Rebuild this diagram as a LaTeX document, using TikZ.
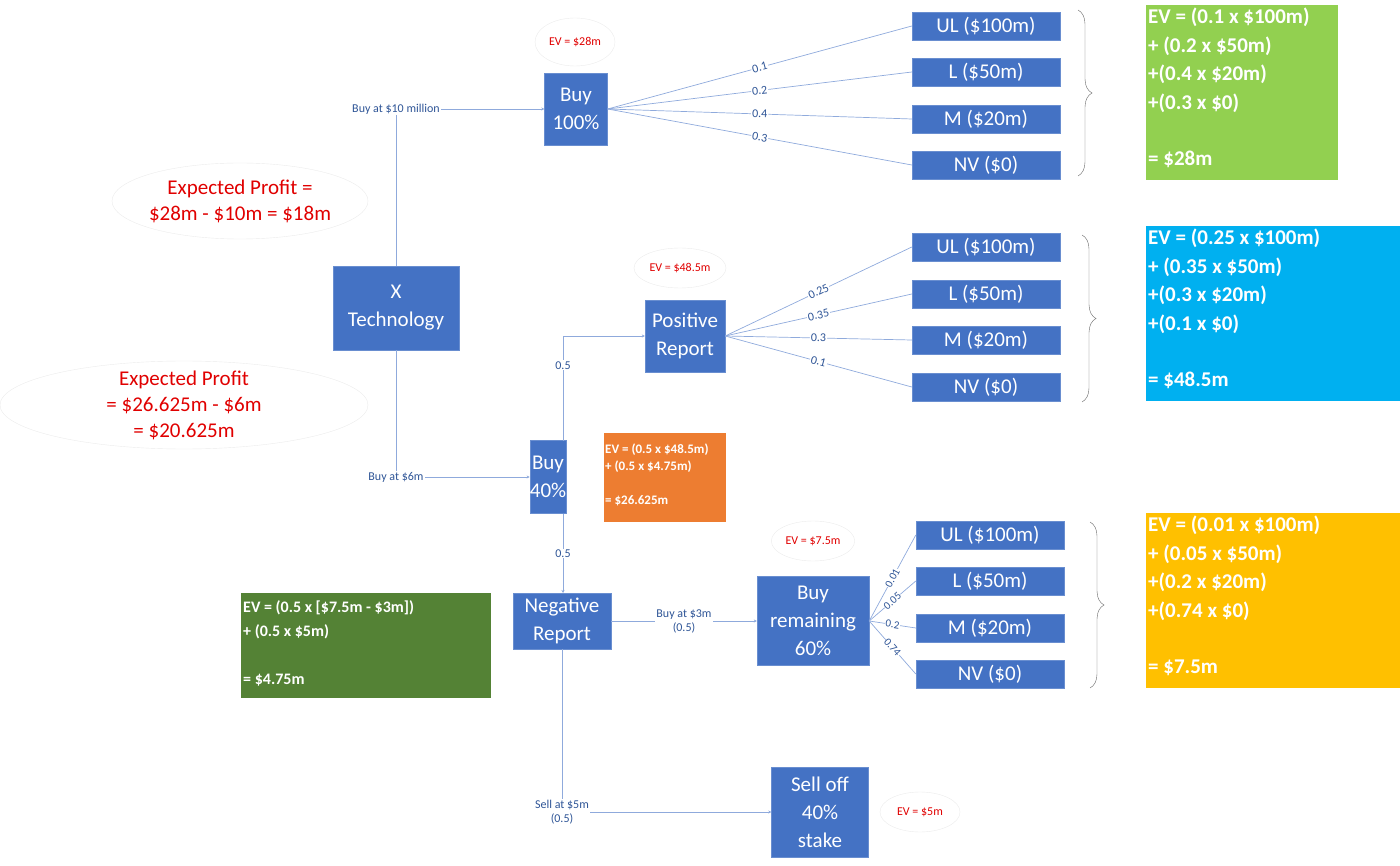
\documentclass[tikz,border=0pt]{standalone}
\usepackage{fontspec}
\setmainfont{Carlito}
\usetikzlibrary{decorations.pathreplacing,shapes.geometric,arrows.meta}
\definecolor{bx}{HTML}{4472C4}
\definecolor{ln}{HTML}{8FAADC}
\definecolor{lb}{HTML}{2F5597}
\definecolor{rd}{HTML}{E00000}
\definecolor{g1}{HTML}{92D050}
\definecolor{c1}{HTML}{00B0F0}
\definecolor{y1}{HTML}{FFC000}
\definecolor{o1}{HTML}{ED7D31}
\definecolor{g2}{HTML}{548235}
\begin{document}
\begin{tikzpicture}[x=1pt,y=-1pt,
 box/.style={fill=bx,draw=bx!80!white,text=white,align=center,inner sep=0pt,font=\fontsize{21}{28}\selectfont},
 outc/.style={box,minimum width=148pt,minimum height=28pt},
 lnn/.style={draw=ln,line width=0.7pt},
 arr/.style={lnn,-{Stealth[length=3pt,width=3pt]}},
 lab/.style={text=lb,font=\fontsize{12}{14}\selectfont,fill=white,inner sep=1pt,align=center},
 slab/.style={text=lb,font=\fontsize{12}{14}\selectfont,inner sep=1pt,sloped,fill=white},
 evel/.style={ellipse,draw=black!8,text=rd,font=\fontsize{12}{14}\selectfont,inner sep=2pt},
 evbox/.style={text=white,font=\bfseries\fontsize{21}{28.5}\selectfont,align=left,anchor=north west,inner sep=0pt}]
\useasboundingbox (0,0) rectangle (1400,866);
% ellipses
\draw[black!8] (240,201) ellipse [x radius=128,y radius=38];
\node[text=rd,font=\fontsize{21}{26}\selectfont,align=center] (ep1) at (240,201) {Expected Profit =\\\$28m - \$10m = \$18m};
\draw[black!8] (184,405) ellipse [x radius=184,y radius=44];
\node[text=rd,font=\fontsize{21}{26}\selectfont,align=center] (ep2) at (184,405) {Expected Profit\\= \$26.625m - \$6m\\= \$20.625m};
% decision nodes
\node[box,minimum width=126pt,minimum height=84pt] (x) at (396,308) {X\\Technology};
\node[box,minimum width=63pt,minimum height=72pt] (b100) at (576,109) {Buy\\100\%};
\node[box,minimum width=80pt,minimum height=72pt] (pos) at (685,336) {Positive\\Report};
\node[box,minimum width=36pt,minimum height=73pt] (b40) at (548,477) {Buy\\40\%};
\node[box,minimum width=98pt,minimum height=56pt] (neg) at (562,621) {Negative\\Report};
\node[box,minimum width=112pt,minimum height=89pt] (rem) at (813,621) {Buy\\remaining\\60\%};
\node[box,minimum width=97pt,minimum height=90pt] (sell) at (820,812) {Sell off\\40\%\\stake};
% outcome boxes
\foreach \n/\y/\t in {a1/26/UL (\$100m),a2/72/L (\$50m),a3/119/M (\$20m),a4/165/NV (\$0),
 b1/247/UL (\$100m),b2/294/L (\$50m),b3/340/M (\$20m),b4/387/NV (\$0)}
 \node[outc] (\n) at (986,\y) {\t};
\foreach \n/\y/\t in {c1/535/UL (\$100m),c2/581/L (\$50m),c3/628/M (\$20m),c4/674/NV (\$0)}
 \node[outc] (\n) at (990,\y) {\t};
% EV ellipses
\node[evel,minimum width=80pt,minimum height=48pt] (e1) at (575,42) {EV = \$28m};
\node[evel,minimum width=92pt,minimum height=40pt] (e2) at (680,268) {EV = \$48.5m};
\node[evel,minimum width=80pt,minimum height=40pt] (e3) at (813,541) {EV = \$7.5m};
\node[evel,minimum width=80pt,minimum height=40pt] (e4) at (920,812) {EV = \$5m};
% coloured EV boxes
\fill[g1] (1146,5) rectangle (1338,180);
\node[evbox] (t1) at (1148,8) {EV = (0.1 x \$100m)\\+ (0.2 x \$50m)\\+(0.4 x \$20m)\\+(0.3 x \$0)\\[28pt]= \$28m};
\fill[c1] (1146,226) rectangle (1400,401);
\node[evbox] (t2) at (1148,229) {EV = (0.25 x \$100m)\\+ (0.35 x \$50m)\\+(0.3 x \$20m)\\+(0.1 x \$0)\\[28pt]= \$48.5m};
\fill[y1] (1146,513) rectangle (1400,688);
\node[evbox] (t3) at (1148,516) {EV = (0.01 x \$100m)\\+ (0.05 x \$50m)\\+(0.2 x \$20m)\\+(0.74 x \$0)\\[28pt]= \$7.5m};
\fill[o1] (604,433) rectangle (726,522);
\node[text=white,font=\bfseries\fontsize{13}{17}\selectfont,align=left,anchor=north west,inner sep=0pt] (t4) at (605,444) {EV = (0.5 x \$48.5m)\\+ (0.5 x \$4.75m)\\[17pt]= \$26.625m};
\fill[g2] (241,593) rectangle (491,698);
\node[text=white,font=\bfseries\fontsize{16}{24}\selectfont,align=left,anchor=north west,inner sep=0pt] (t5) at (243,600) {EV = (0.5 x [\$7.5m - \$3m])\\+ (0.5 x \$5m)\\[24pt]= \$4.75m};
% braces
\draw[black!60,decorate,decoration={brace,amplitude=14pt}] (1078,10) -- (1078,176);
\draw[black!60,decorate,decoration={brace,amplitude=14pt}] (1082,235) -- (1082,402);
\draw[black!60,decorate,decoration={brace,amplitude=14pt}] (1090,522) -- (1090,688);
% main connectors
\draw[arr] (x.north) |- node[pos=0.5,lab]{Buy at \$10 million} (b100.west);
\draw[arr] (x.south) |- node[pos=0.5,lab]{Buy at \$6m} (b40.west);
\coordinate (b40n) at (563,441);
\coordinate (b40s) at (563,514);
\coordinate (negn) at (563,593);
\draw[arr] (b40n) |- node[pos=0.36,lab]{0.5} (pos.west);
\draw[arr] (b40s) -- node[lab]{0.5} (negn);
\draw[arr] (neg.east) -- node[lab]{Buy at \$3m\\(0.5)} (rem.west);
\draw[arr] (neg.south) |- node[pos=0.5,lab]{Sell at \$5m\\(0.5)} (sell.west);
% outcome connectors
\foreach \t/\p in {a1/0.1,a2/0.2,a3/0.4,a4/0.3}
 \draw[lnn] (b100.east) -- node[slab,pos=0.5]{\p} (\t.west);
\foreach \t/\p in {b1/0.25,b2/0.35,b3/0.3,b4/0.1}
 \draw[lnn] (pos.east) -- node[slab,pos=0.5]{\p} (\t.west);
\foreach \t/\p in {c1/0.01,c2/0.05,c3/0.2,c4/0.74}
 \draw[lnn] (rem.east) -- node[slab,pos=0.5,font=\fontsize{11}{12}\selectfont,inner sep=0.5pt]{\p} (\t.west);
\end{tikzpicture}
\end{document}
